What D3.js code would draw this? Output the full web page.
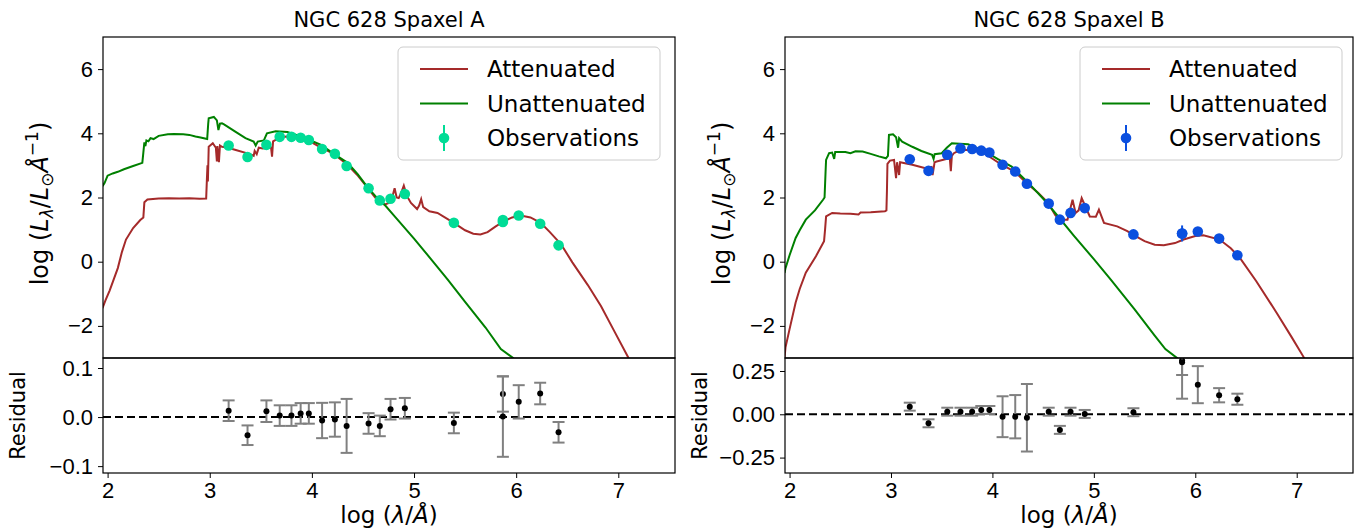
<!DOCTYPE html>
<html>
<head>
<meta charset="utf-8">
<title>NGC 628 SED</title>
<script src="https://cdn.jsdelivr.net/npm/d3@7"></script>
<style>
 body { margin: 0; background: #fff; }
 svg { font-family: "DejaVu Sans", sans-serif; }
 .tick text { font-size: 22px; fill: #000; }
 .tick line, .domain { stroke: #000; }
</style>
</head>
<body>
<script>
// ---- data ----
var titles = ["NGC 628 Spaxel A", "NGC 628 Spaxel B"];
var xTicks = [2, 3, 4, 5, 6, 7];
var yTicks = [-2, 0, 2, 4, 6];
var resTicksA = [-0.1, 0.0, 0.1];
var resTicksB = [-0.25, 0.0, 0.25];

// log wavelength of each band
var bandLogLam = [3.185, 3.37, 3.555, 3.685, 3.80, 3.89, 3.97, 4.10, 4.225, 4.34,
                  4.555, 4.665, 4.77, 4.91, 5.39, 5.87, 5.87, 6.025, 6.235, 6.415];

var obsA = [3.62, 3.26, 3.64, 3.89, 3.89, 3.86, 3.79, 3.51, 3.36, 2.98,
            2.29, 1.91, 1.96, 2.11, 1.21, 1.30, 1.24, 1.44, 1.18, 0.51];
var obsErrA = [0.02, 0.02, 0.02, 0.02, 0.02, 0.02, 0.02, 0.03, 0.03, 0.05,
               0.02, 0.02, 0.02, 0.02, 0.02, 0.04, 0.08, 0.04, 0.03, 0.03];
var obsB = [3.19, 2.83, 3.33, 3.53, 3.51, 3.46, 3.40, 3.02, 2.81, 2.43,
            1.81, 1.31, 1.52, 1.67, 0.85, 0.88, 0.88, 0.94, 0.72, 0.20];
var obsErrB = [0.02, 0.02, 0.02, 0.02, 0.02, 0.02, 0.02, 0.05, 0.05, 0.08,
               0.02, 0.02, 0.02, 0.02, 0.02, 0.25, 0.10, 0.05, 0.03, 0.03];

var resA = [0.013, -0.037, 0.012, 0.003, 0.003, 0.0075, 0.0075, -0.007, -0.005, -0.018,
            -0.013, -0.018, 0.016, 0.018, -0.012, 0.047, 0.001, 0.031, 0.048, -0.031];
var resErrA = [0.021, 0.020, 0.022, 0.021, 0.021, 0.021, 0.021, 0.036, 0.035, 0.055,
               0.021, 0.021, 0.021, 0.021, 0.021, 0.036, 0.082, 0.034, 0.022, 0.021];
var resB = [0.044, -0.052, 0.015, 0.015, 0.015, 0.025, 0.025, -0.014, -0.014, -0.02,
            0.015, -0.09, 0.015, 0.002, 0.012, 0.31, 0.30, 0.171, 0.11, 0.087];
var resErrB = [0.023, 0.023, 0.023, 0.023, 0.023, 0.023, 0.023, 0.118, 0.125, 0.195,
               0.023, 0.023, 0.023, 0.023, 0.023, 0.083, 0.21, 0.107, 0.041, 0.032];

// model spectra: [log lambda, log L]
var attA = [[1.95,-1.45],[1.98,-1.2],[2.02,-0.9],[2.06,-0.55],[2.10,-0.2],[2.14,0.3],[2.18,0.69],
  [2.25,1.05],[2.32,1.3],[2.35,1.38],[2.36,1.85],[2.39,1.94],[2.5,1.97],[2.6,1.98],[2.7,1.97],
  [2.8,1.98],[2.9,1.96],[2.965,1.97],[2.972,2.55],[2.978,3.0],[2.982,2.5],[2.99,3.58],[3.03,3.69],
  [3.06,3.55],[3.07,3.12],[3.075,3.6],[3.09,3.1],[3.10,3.62],[3.12,3.58],[3.17,3.56],[3.255,3.48],
  [3.385,3.36],[3.43,3.30],[3.44,3.45],[3.46,3.35],[3.48,3.55],[3.52,3.53],[3.58,3.56],[3.60,3.56],
  [3.61,3.27],[3.62,3.75],[3.69,3.88],[3.75,3.9],[3.84,3.85],[3.96,3.79],[4.08,3.57],[4.21,3.37],
  [4.35,3.01],[4.45,2.68],[4.54,2.32],[4.62,2.0],[4.67,1.86],[4.71,1.78],[4.76,1.84],[4.79,2.05],
  [4.81,2.29],[4.83,2.0],[4.85,1.98],[4.875,2.15],[4.90,2.37],[4.93,2.05],[4.97,1.83],[5.03,1.64],
  [5.05,1.75],[5.07,1.95],[5.09,1.7],[5.15,1.57],[5.23,1.52],[5.39,1.21],[5.5,0.98],[5.58,0.87],
  [5.65,0.85],[5.72,0.92],[5.8,1.1],[5.88,1.26],[5.96,1.38],[6.045,1.44],[6.14,1.38],[6.24,1.21],
  [6.33,0.92],[6.44,0.54],[6.55,-0.02],[6.7,-0.72],[6.83,-1.38],[6.95,-2.1],[7.1,-3.0],[7.2,-3.7]];

var unattA = [[1.95,2.35],[1.97,2.45],[2.0,2.68],[2.05,2.75],[2.1,2.8],[2.16,2.88],[2.25,2.98],
  [2.34,3.08],[2.35,3.4],[2.36,3.72],[2.37,3.6],[2.38,3.78],[2.4,3.75],[2.42,3.85],[2.45,3.82],
  [2.5,3.92],[2.59,3.97],[2.65,3.98],[2.74,3.97],[2.8,3.95],[2.86,3.9],[2.91,3.87],[2.975,3.82],
  [2.985,4.3],[2.99,4.47],[3.04,4.51],[3.07,4.4],[3.085,4.1],[3.10,4.3],[3.12,4.31],[3.14,4.28],
  [3.25,4.05],[3.35,3.85],[3.43,3.74],[3.45,3.62],[3.47,3.74],[3.53,3.78],[3.56,4.0],[3.645,4.06],
  [3.76,4.04],[3.84,3.96],[3.97,3.8],[4.09,3.64],[4.2,3.39],[4.35,3.08],[4.45,2.72],[4.54,2.34],
  [4.62,2.05],[4.71,1.78],[4.8,1.45],[5.0,0.72],[5.2,-0.05],[5.33,-0.56],[5.5,-1.25],[5.7,-2.05],
  [5.85,-2.72],[5.97,-3.0],[6.05,-3.4]];

var attB = [[1.95,-3.0],[1.96,-2.67],[2.0,-2.1],[2.06,-1.27],[2.1,-0.85],[2.16,-0.34],[2.26,0.17],
  [2.34,0.64],[2.35,1.0],[2.36,1.41],[2.42,1.52],[2.5,1.5],[2.6,1.49],[2.68,1.47],[2.7,1.53],
  [2.8,1.54],[2.94,1.57],[2.955,1.6],[2.96,2.2],[2.965,3.05],[2.99,3.15],[3.03,3.17],[3.05,2.6],
  [3.06,3.1],[3.08,2.7],[3.09,3.1],[3.21,3.02],[3.34,2.91],[3.40,2.95],[3.41,2.7],[3.43,3.1],
  [3.45,3.12],[3.535,3.19],[3.58,3.22],[3.59,2.82],[3.60,3.3],[3.62,3.38],[3.68,3.48],[3.80,3.48],
  [3.93,3.36],[4.09,3.02],[4.22,2.81],[4.335,2.45],[4.45,2.15],[4.55,1.83],[4.62,1.45],[4.66,1.31],
  [4.74,1.31],[4.79,1.93],[4.82,1.52],[4.85,1.6],[4.88,1.98],[4.96,1.41],[5.02,1.4],[5.05,1.62],
  [5.10,1.21],[5.23,1.10],[5.33,0.95],[5.38,0.85],[5.5,0.64],[5.6,0.53],[5.69,0.51],[5.8,0.58],
  [5.885,0.69],[6.0,0.8],[6.08,0.82],[6.24,0.69],[6.35,0.42],[6.44,0.12],[6.6,-0.6],[6.8,-1.58],
  [6.95,-2.35],[7.07,-2.98],[7.15,-3.5]];

var unattB = [[1.95,-0.35],[1.96,-0.2],[2.0,0.2],[2.06,0.74],[2.1,0.98],[2.16,1.31],[2.25,1.6],
  [2.33,1.93],[2.345,2.0],[2.355,2.8],[2.36,3.17],[2.39,3.38],[2.42,3.4],[2.44,3.2],[2.45,3.42],
  [2.55,3.42],[2.6,3.38],[2.65,3.44],[2.72,3.43],[2.8,3.36],[2.88,3.28],[2.95,3.22],[2.97,3.3],
  [2.98,3.95],[3.02,3.97],[3.05,3.88],[3.07,3.55],[3.08,3.85],[3.11,3.74],[3.21,3.58],[3.3,3.45],
  [3.405,3.33],[3.42,3.2],[3.43,3.35],[3.50,3.38],[3.55,3.55],[3.60,3.69],[3.76,3.66],[3.93,3.43],
  [4.05,3.2],[4.19,2.96],[4.35,2.47],[4.51,1.93],[4.65,1.4],[4.8,0.82],[5.0,0.08],[5.165,-0.55],
  [5.4,-1.48],[5.6,-2.3],[5.705,-2.72],[5.82,-3.0],[5.9,-3.4]];

// ---- layout ----
var width = 1356, height = 531;
var yTop = 37, yMid = 358, yBot = 473;
var redC = "#a52a2a", greenC = "#008000";

var svg = d3.select("body").append("svg")
    .attr("width", width)
    .attr("height", height);

var panels = [
  {x0: 103, x1: 675, title: titles[0], att: attA, unatt: unattA, obs: obsA, obsErr: obsErrA,
   res: resA, resErr: resErrA, resDomain: [-0.114, 0.1204], resTicks: resTicksA,
   resFmt: d3.format(".1f"), color: "#00dc96", legW: 262, legR: 15},
  {x0: 785, x1: 1353, title: titles[1], att: attB, unatt: unattB, obs: obsB, obsErr: obsErrB,
   res: resB, resErr: resErrB, resDomain: [-0.339, 0.325], resTicks: resTicksB,
   resFmt: d3.format(".2f"), color: "#0b4fdf", legW: 262, legR: 11}
];

function minusFmt(f) {
  return function (d) { return f(d).replace("-", "\u2212"); };
}

panels.forEach(function (p, i) {
  var g = svg.append("g");
  var x = d3.scaleLinear().domain([1.955, 7.555]).range([p.x0, p.x1]);
  var y = d3.scaleLinear().domain([-3, 7]).range([yMid, yTop]);
  var yr = d3.scaleLinear().domain(p.resDomain).range([yBot, yMid]);

  var clipTop = "clipTop" + i, clipRes = "clipRes" + i;
  var defs = svg.append("defs");
  defs.append("clipPath").attr("id", clipTop).append("rect")
      .attr("x", p.x0).attr("y", yTop).attr("width", p.x1 - p.x0).attr("height", yMid - yTop);
  defs.append("clipPath").attr("id", clipRes).append("rect")
      .attr("x", p.x0).attr("y", yMid).attr("width", p.x1 - p.x0).attr("height", yBot - yMid);

  // curves
  var line = d3.line().x(d => x(d[0])).y(d => y(d[1]));
  var curves = g.append("g").attr("clip-path", "url(#" + clipTop + ")");
  curves.append("path").datum(p.att)
      .attr("d", line).attr("fill", "none").attr("stroke", redC).attr("stroke-width", 2);
  curves.append("path").datum(p.unatt)
      .attr("d", line).attr("fill", "none").attr("stroke", greenC).attr("stroke-width", 2);

  // observations
  var obs = curves.selectAll(".obs").data(p.obs).enter().append("g");
  obs.append("line")
      .attr("x1", (d, j) => x(bandLogLam[j])).attr("x2", (d, j) => x(bandLogLam[j]))
      .attr("y1", (d, j) => y(d - p.obsErr[j])).attr("y2", (d, j) => y(d + p.obsErr[j]))
      .attr("stroke", p.color).attr("stroke-width", 2);
  obs.append("circle")
      .attr("cx", (d, j) => x(bandLogLam[j])).attr("cy", d => y(d))
      .attr("r", 5.3).attr("fill", p.color);

  // residuals
  var rg = g.append("g").attr("clip-path", "url(#" + clipRes + ")");
  rg.append("line")
      .attr("x1", p.x0).attr("x2", p.x1).attr("y1", yr(0)).attr("y2", yr(0))
      .attr("stroke", "#000").attr("stroke-width", 2).attr("stroke-dasharray", "8,4");
  var eb = rg.selectAll(".eb").data(p.res).enter().append("g");
  eb.each(function (d, j) {
    var e = d3.select(this), cx = x(bandLogLam[j]);
    var lo = yr(d - p.resErr[j]), hi = yr(d + p.resErr[j]);
    e.append("line").attr("x1", cx).attr("x2", cx).attr("y1", lo).attr("y2", hi)
        .attr("stroke", "#808080").attr("stroke-width", 2);
    [lo, hi].forEach(function (yy) {
      e.append("line").attr("x1", cx - 6).attr("x2", cx + 6).attr("y1", yy).attr("y2", yy)
          .attr("stroke", "#808080").attr("stroke-width", 2);
    });
    e.append("circle").attr("cx", cx).attr("cy", yr(d)).attr("r", 3).attr("fill", "#000");
  });

  // axes
  g.append("g").attr("transform", "translate(" + p.x0 + ",0)")
      .call(d3.axisLeft(y).tickValues(yTicks).tickSize(5).tickPadding(5).tickFormat(minusFmt(d3.format("d"))));
  g.append("g").attr("transform", "translate(" + p.x0 + ",0)")
      .call(d3.axisLeft(yr).tickValues(p.resTicks).tickSize(5).tickPadding(5).tickFormat(minusFmt(p.resFmt)));
  g.append("g").attr("transform", "translate(0," + yBot + ")")
      .call(d3.axisBottom(x).tickValues(xTicks).tickSize(5).tickPadding(4).tickFormat(d3.format("d")));
  g.selectAll(".domain").remove();

  // frames
  [[yTop, yMid], [yMid, yBot]].forEach(function (r) {
    g.append("rect").attr("x", p.x0).attr("y", r[0])
        .attr("width", p.x1 - p.x0).attr("height", r[1] - r[0])
        .attr("fill", "none").attr("stroke", "#000").attr("stroke-width", 1.2);
  });

  var cx = (p.x0 + p.x1) / 2;
  g.append("text").attr("x", cx).attr("y", 27).attr("text-anchor", "middle")
      .attr("font-size", 21).text(p.title);

  // x label
  var xl = g.append("text").attr("x", cx).attr("y", 523).attr("text-anchor", "middle")
      .attr("font-size", 23);
  xl.append("tspan").text("log (");
  xl.append("tspan").attr("font-style", "italic").text("\u03bb");
  xl.append("tspan").text("/");
  xl.append("tspan").attr("font-style", "italic").text("\u00c5");
  xl.append("tspan").text(")");

  // y label main
  var yl = g.append("text")
      .attr("transform", "translate(" + (p.x0 - 55) + "," + ((yTop + yMid) / 2 + 6) + ") rotate(-90)")
      .attr("text-anchor", "middle").attr("font-size", 24);
  yl.append("tspan").text("log (");
  yl.append("tspan").attr("font-style", "italic").text("L");
  yl.append("tspan").attr("font-style", "italic").attr("font-size", 17).attr("dy", 5).text("\u03bb");
  yl.append("tspan").attr("dy", -5).text("/");
  yl.append("tspan").attr("font-style", "italic").text("L");
  yl.append("tspan").attr("font-size", 17).attr("dy", 5).text("\u2299");
  yl.append("tspan").attr("font-style", "italic").attr("dy", -5).text("\u00c5");
  yl.append("tspan").attr("font-size", 17).attr("dy", -10).text("\u22121");
  yl.append("tspan").attr("dy", 10).text(")");

  g.append("text")
      .attr("transform", "translate(" + (p.x0 - 78) + "," + ((yMid + yBot) / 2) + ") rotate(-90)")
      .attr("text-anchor", "middle").attr("font-size", 21).text("Residual");

  // legend
  var lw = p.legW;
  var lg = g.append("g");
  lg.append("rect").attr("x", p.x1 - lw - p.legR).attr("y", 47).attr("width", lw).attr("height", 113)
      .attr("rx", 5).attr("fill", "#fff").attr("fill-opacity", 0.8)
      .attr("stroke", "#ccc").attr("stroke-width", 1);
  var sx = p.x1 - lw - p.legR + 22;
  var items = [["Attenuated", redC, "line"], ["Unattenuated", greenC, "line"], ["Observations", p.color, "pt"]];
  items.forEach(function (it, k) {
    var yy = 69 + k * 34.5;
    if (it[2] === "line") {
      lg.append("line").attr("x1", sx).attr("x2", sx + 48).attr("y1", yy).attr("y2", yy)
          .attr("stroke", it[1]).attr("stroke-width", 2);
    } else {
      lg.append("line").attr("x1", sx + 24).attr("x2", sx + 24).attr("y1", yy - 13).attr("y2", yy + 13)
          .attr("stroke", it[1]).attr("stroke-width", 2);
      lg.append("circle").attr("cx", sx + 24).attr("cy", yy).attr("r", 5.3).attr("fill", it[1]);
    }
    lg.append("text").attr("x", sx + 67).attr("y", yy + 8).attr("font-size", 23).text(it[0]);
  });
});
</script>
</body>
</html>
